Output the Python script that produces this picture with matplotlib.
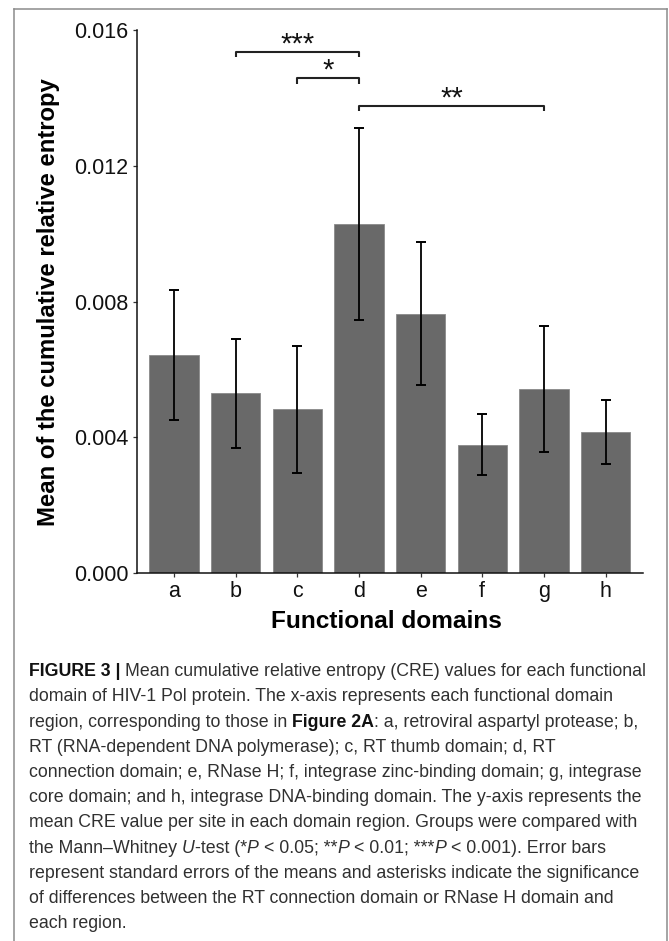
import matplotlib
matplotlib.use("Agg")
import matplotlib.pyplot as plt
import numpy as np
from matplotlib.lines import Line2D

# values
domains = ['a', 'b', 'c', 'd', 'e', 'f', 'g', 'h']
mean_cre = [0.00642, 0.00530, 0.00483, 0.01029, 0.00765, 0.00379, 0.00543, 0.00415]
sem_cre = [0.00191, 0.00161, 0.00187, 0.00282, 0.00210, 0.00090, 0.00186, 0.00094]
yticks = [0.000, 0.004, 0.008, 0.012, 0.016]

# significance brackets: (from, to, label, height)
brackets = [(1, 3, '***', 0.01536), (2, 3, '*', 0.01458), (3, 6, '**', 0.01377)]

caption = [
    [("FIGURE 3 |", "bold", "normal"), (" Mean cumulative relative entropy (CRE) values for each functional", "normal", "normal")],
    [("domain of HIV-1 Pol protein. The x-axis represents each functional domain", "normal", "normal")],
    [("region, corresponding to those in ", "normal", "normal"), ("Figure 2A", "bold", "normal"),
     (": a, retroviral aspartyl protease; b,", "normal", "normal")],
    [("RT (RNA-dependent DNA polymerase); c, RT thumb domain; d, RT", "normal", "normal")],
    [("connection domain; e, RNase H; f, integrase zinc-binding domain; g, integrase", "normal", "normal")],
    [("core domain; and h, integrase DNA-binding domain. The y-axis represents the", "normal", "normal")],
    [("mean CRE value per site in each domain region. Groups were compared with", "normal", "normal")],
    [("the Mann\u2013Whitney ", "normal", "normal"), ("U", "normal", "italic"), ("-test (*", "normal", "normal"),
     ("P", "normal", "italic"), (" < 0.05; **", "normal", "normal"), ("P", "normal", "italic"),
     (" < 0.01; ***", "normal", "normal"), ("P", "normal", "italic"), (" < 0.001). Error bars", "normal", "normal")],
    [("represent standard errors of the means and asterisks indicate the significance", "normal", "normal")],
    [("of differences between the RT connection domain or RNase H domain and", "normal", "normal")],
    [("each region.", "normal", "normal")],
]

plt.rcParams['font.family'] = ['Liberation Sans', 'DejaVu Sans']

W, H = 669, 941
fig = plt.figure(figsize=(W / 100, H / 100), dpi=100)
fig.patch.set_facecolor('white')

ax = fig.add_axes([137 / W, (H - 573.3) / H, (642.5 - 137) / W, (573.3 - 30) / H])
x = np.arange(len(domains))
ax.bar(x, mean_cre, width=0.8, color='#696969', edgecolor='#8a8a8a', linewidth=0.6, zorder=2)
ax.errorbar(x, mean_cre, yerr=sem_cre, fmt='none', ecolor='black', elinewidth=1.3,
            capsize=3.4, capthick=1.4, zorder=3)

for i, j, lab, yb in brackets:
    tip = 0.00016
    ax.plot([i, i, j, j], [yb - tip, yb, yb, yb - tip], color='#222222', lw=1.5,
            solid_capstyle='butt', clip_on=False)
    ax.text((i + j) / 2, yb + 0.00022, lab, ha='center', va='center', fontsize=21, color='#111111')

ax.set_xlim(-0.6, 7.6)
ax.set_ylim(0, 0.016)
ax.set_xticks(x)
ax.set_xticklabels(domains)
ax.set_yticks(yticks)
ax.set_yticklabels(['%.3f' % v for v in yticks])
for s in ['top', 'right']:
    ax.spines[s].set_visible(False)
for s in ['left', 'bottom']:
    ax.spines[s].set_linewidth(1.1)
    ax.spines[s].set_color('#111111')
ax.tick_params(axis='both', length=3, width=0.9, color='#333333', labelsize=15.5, labelcolor='#111111')
ax.tick_params(axis='y', pad=3)
ax.tick_params(axis='x', pad=2.5)

ax.set_ylabel('Mean of the cumulative relative entropy', fontsize=17.2, fontweight='bold', va='center')
ax.yaxis.set_label_coords(-0.176, 0.5)
ax.set_xlabel('Functional domains', fontsize=17.6, fontweight='bold', va='center')
ax.xaxis.set_label_coords((386 - 137) / (642.5 - 137), -(621 - 573.3) / (573.3 - 30))

# frame around figure + caption
fc = '#8c8c8c'
fig.add_artist(Line2D([14 / W, 14 / W], [0, 1 - 9 / H], color=fc, lw=1.1))
fig.add_artist(Line2D([14 / W, 667 / W], [1 - 9 / H, 1 - 9 / H], color=fc, lw=1.1))
fig.add_artist(Line2D([667 / W, 667 / W], [0, 1 - 9 / H], color=fc, lw=1.1))

# caption, drawn piece by piece so bold/italic runs can be mixed
renderer = fig.canvas.get_renderer()
cap_size = 12.8
cap_color = '#303030'


def text_width(s, weight, style):
    t = fig.text(0, 0, s, fontsize=cap_size, fontweight=weight, fontstyle=style)
    w = t.get_window_extent(renderer).width
    t.remove()
    return w


def space_width(weight, style):
    return text_width('x x', weight, style) - text_width('xx', weight, style)


y0 = 671.7
dy = 25.2
for k, line in enumerate(caption):
    xp = 29.0
    yp = 1 - (y0 + k * dy) / H
    for s, weight, style in line:
        sw = space_width(weight, style)
        lead = len(s) - len(s.lstrip(' '))
        trail = len(s) - len(s.rstrip(' '))
        core = s.strip(' ')
        xp += lead * sw
        col = '#111111' if weight == 'bold' else cap_color
        t = fig.text(xp / W, yp, core, fontsize=cap_size, fontweight=weight, fontstyle=style,
                     color=col, ha='left', va='center')
        xp += t.get_window_extent(renderer).width + trail * sw

fig.savefig('out.png', dpi=100, facecolor='white')
